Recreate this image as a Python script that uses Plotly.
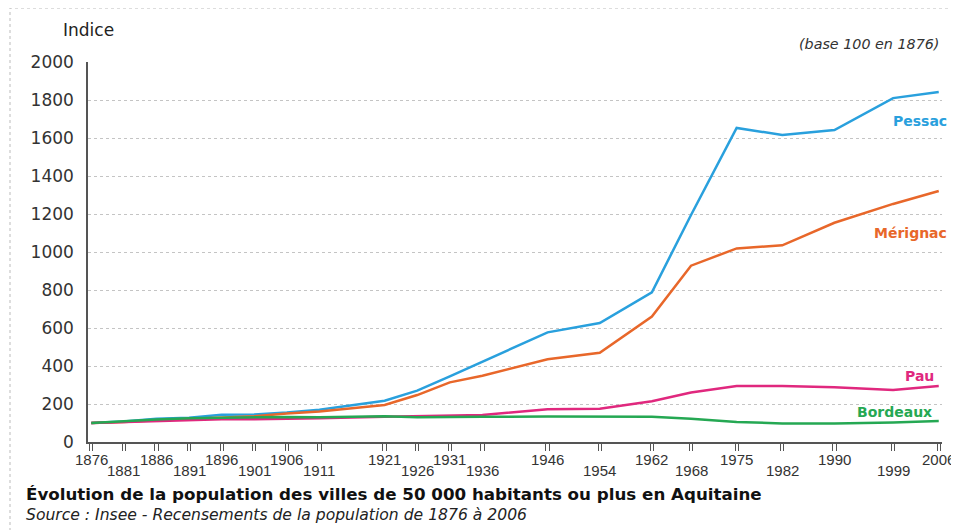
import plotly.graph_objects as go

# census years
years = [1876, 1881, 1886, 1891, 1896, 1901, 1906, 1911, 1921, 1926, 1931,
         1936, 1946, 1954, 1962, 1968, 1975, 1982, 1990, 1999, 2006]

# indices (base 100 in 1876)
pessac = [100, 108, 122, 128, 143, 145, 155, 170, 217, 270, 345,
          423, 577, 626, 788, 1195, 1653, 1616, 1642, 1810, 1842]
merignac = [100, 105, 115, 122, 130, 135, 150, 160, 195, 247, 314,
            349, 435, 470, 660, 928, 1019, 1035, 1154, 1253, 1321]
pau = [100, 105, 110, 115, 120, 120, 122, 125, 133, 135, 138,
       142, 172, 175, 214, 260, 295, 295, 288, 274, 295]
bordeaux = [100, 110, 118, 125, 128, 130, 132, 130, 135, 130, 132,
            133, 134, 134, 133, 123, 105, 98, 98, 103, 110]

# name, values, colour, label height (index), label shift (px)
series = [
    ("Pessac", pessac, "#29a0dd", 1690, 10),
    ("Mérignac", merignac, "#e8672a", 1100, 10),
    ("Pau", pau, "#e0287e", 350, -3),
    ("Bordeaux", bordeaux, "#25a853", 160, -5),
]

WIDE = "DejaVu Sans, Verdana, sans-serif"

fig = go.Figure()
for name, vals, col, ly, xs in series:
    fig.add_trace(go.Scatter(x=years, y=vals, mode="lines", name=name,
                             line=dict(color=col, width=2.5)))
    fig.add_annotation(x=2006, y=ly, text="<b>%s</b>" % name, showarrow=False,
                       xanchor="right", xshift=xs,
                       font=dict(size=14, color=col, family=WIDE))

# alternating year labels below the axis
for i, yr in enumerate(years):
    fig.add_annotation(x=yr, y=0, xref="x", yref="paper", text=str(yr),
                       showarrow=False, yanchor="middle",
                       yshift=-17 if i % 2 == 0 else -28,
                       font=dict(size=15, color="#333",
                                 family="Liberation Sans Narrow, Arial Narrow, Arial"))

# double tick marks, as in the original
ticks = []
for yr in years:
    ticks += [yr - 0.25, yr + 0.25]

txt = dict(xref="paper", yref="paper", showarrow=False)
fig.add_annotation(x=0, y=1, text="Indice", xanchor="left", yanchor="middle",
                   xshift=-27, yshift=32, font=dict(size=17, color="#222", family=WIDE), **txt)
fig.add_annotation(x=1, y=1, text="<i>(base 100 en 1876)</i>", xanchor="right",
                   yanchor="middle", xshift=-1, yshift=18,
                   font=dict(size=14.3, color="#333", family=WIDE), **txt)
fig.add_annotation(x=0, y=0, text="<b>Évolution de la population des villes de 50 000 habitants ou plus en Aquitaine</b>",
                   xanchor="left", yanchor="middle", xshift=-64, yshift=-52,
                   font=dict(size=16.7, color="#111", family=WIDE), **txt)
fig.add_annotation(x=0, y=0, text="<i>Source : Insee - Recensements de la population de 1876 à 2006</i>",
                   xanchor="left", yanchor="middle", xshift=-64, yshift=-73,
                   font=dict(size=15.6, color="#222", family=WIDE), **txt)

# dotted frame round the figure
fig.add_shape(type="rect", xref="paper", yref="paper",
              x0=-78 / 854, x1=880 / 854, y0=-100 / 380, y1=434 / 380,
              line=dict(color="#bbb", width=1, dash="dot"))

# page body has an 8px margin, so the figure is 8px smaller each way
fig.update_layout(
    width=951, height=522,
    margin=dict(l=80, r=17, t=54, b=88),
    plot_bgcolor="white", paper_bgcolor="white",
    showlegend=False,
    font=dict(family=WIDE, color="#222"),
    xaxis=dict(range=[1875.5, 2006.5], tickvals=ticks, showticklabels=False,
               ticks="outside", ticklen=7, tickcolor="#555", showgrid=False,
               showline=True, linecolor="#555", linewidth=1.5, zeroline=False),
    yaxis=dict(range=[0, 2000], dtick=200, showline=True, linecolor="#555",
               linewidth=1.5, gridcolor="#c4c4c4", griddash="dot", zeroline=False,
               tickfont=dict(size=17, color="#333"), ticklabelstandoff=9),
)

fig.write_html("out.html")
